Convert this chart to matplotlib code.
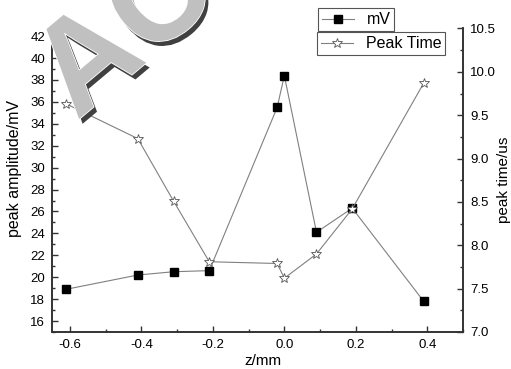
import numpy as np
import matplotlib
matplotlib.use('Agg')
import matplotlib.pyplot as plt
import matplotlib.patheffects as pe
from matplotlib.ticker import MultipleLocator, FormatStrFormatter

plt.rcParams['font.family'] = ['Liberation Sans', 'DejaVu Sans']
plt.rcParams['axes.unicode_minus'] = False

# values
z_mm = [-0.61, -0.41, -0.31, -0.21, -0.02, 0.0, 0.09, 0.19, 0.39]
amp_mv = [18.9, 20.2, 20.5, 20.6, 35.5, 38.4, 24.1, 26.3, 17.8]
peak_time = [9.63, 9.23, 8.51, 7.81, 7.79, 7.62, 7.90, 8.42, 9.87]

line_col = '#808080'
spine_col = '#333333'

fig = plt.figure(figsize=(5.11, 3.69), dpi=100)
ax = fig.add_axes([0.1018, 0.1003, 0.8043, 0.8225])
ax2 = ax.twinx()

l1, = ax.plot(z_mm, amp_mv, color=line_col, lw=0.8, marker='s', ms=6,
              mfc='black', mec='black', label='mV', zorder=3)
l2, = ax2.plot(z_mm, peak_time, color=line_col, lw=0.8, marker='*', ms=7,
               mfc='white', mec='#555555', mew=0.6, label='Peak Time', zorder=3)

ax.set_xlim(-0.65, 0.5)
ax.set_ylim(15, 42.7)
ax2.set_ylim(7.0, 10.5)

ax.xaxis.set_major_locator(MultipleLocator(0.2))
ax.xaxis.set_minor_locator(MultipleLocator(0.1))
ax.xaxis.set_major_formatter(FormatStrFormatter('%.1f'))
ax.yaxis.set_major_locator(MultipleLocator(2))
ax.yaxis.set_minor_locator(MultipleLocator(1))
ax2.yaxis.set_major_locator(MultipleLocator(0.5))
ax2.yaxis.set_minor_locator(MultipleLocator(0.25))
ax2.yaxis.set_major_formatter(FormatStrFormatter('%.1f'))

for a in (ax, ax2):
    a.spines['top'].set_visible(False)
    for s in ('left', 'right', 'bottom'):
        a.spines[s].set_color(spine_col)
        a.spines[s].set_linewidth(1.2)
    a.tick_params(which='major', direction='in', length=4.5, width=1,
                  color=spine_col, labelsize=9.5, pad=5)
    a.tick_params(which='minor', direction='in', length=2.5, width=1,
                  color=spine_col)
ax.tick_params(axis='y', which='both', right=False)
ax2.tick_params(axis='y', which='both', left=False)

ax.set_xlabel('z/mm', fontsize=11)
ax.xaxis.set_label_coords(0.513, -0.072)
ax.set_ylabel('peak amplitude/mV', fontsize=11.5)
ax.yaxis.set_label_coords(-0.072, 0.54)
ax2.set_ylabel('peak time/us', fontsize=11, labelpad=1)

leg_kw = dict(loc='upper left', fontsize=11.5, frameon=True, fancybox=False,
              edgecolor='#555555', framealpha=1, borderpad=0.25,
              handlelength=2.0, handletextpad=0.8, borderaxespad=0)
leg1 = fig.legend(handles=[l1], bbox_to_anchor=(0.622, 0.978), **leg_kw)
leg2 = fig.legend(handles=[l2], bbox_to_anchor=(0.620, 0.913), **leg_kw)
for lg in (leg1, leg2):
    lg.get_frame().set_linewidth(0.8)

# watermark on top of the figure
fig.text(0.150, 0.672, 'ACCEPTED', fontsize=94, fontweight='bold',
         color='#c0c0c0', rotation=40, rotation_mode='anchor',
         ha='left', va='baseline', zorder=10,
         path_effects=[pe.SimplePatchShadow(offset=(2.5, -3.5),
                                            shadow_rgbFace='#404040', alpha=1.0),
                       pe.Stroke(linewidth=1.2, foreground='white'),
                       pe.Normal()])

fig.savefig('out.png', dpi=100)
